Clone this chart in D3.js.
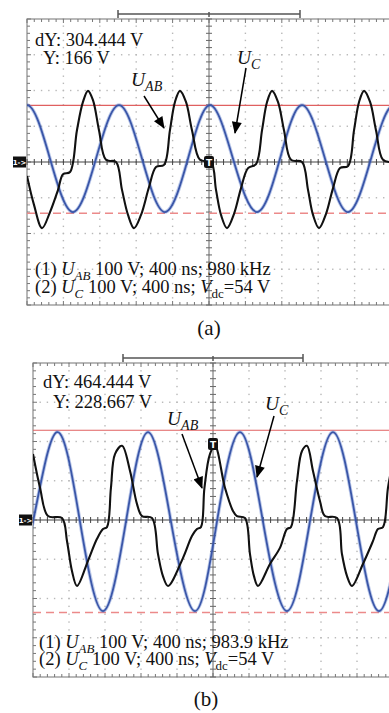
<!DOCTYPE html>
<html>
<head>
<meta charset="utf-8">
<script src="https://cdn.jsdelivr.net/npm/d3@7"></script>
<style>
body { margin: 0; background: #fff; }
svg { display: block; }
</style>
</head>
<body>
<svg id="fig" width="389" height="713"></svg>
<script>
// scope data: time in ns (400 ns/div), voltage in V (100 V/div)
var timeDomain = [0, 4000]
var voltDomain = [-400, 400]
var bracketTimes = [1000, 2000, 3000]

// (a) U_C (blue) and U_AB (black)
var ucA = [[-253,9],[0,159],[253,9],[505,-140],[758,9],[1011,159],[1264,9],[1516,-140],[1769,9],
  [2011,159],[2264,9],[2527,-140],[2780,9],[3022,159],[3275,9],[3527,-140],[3780,9],[4033,159],[4286,9]]
var uabA = [[0,-39],[77,-120],[165,-185],[253,-140],[341,-78],[396,-34],[473,-28],[549,89],[615,168],
  [670,199],[725,173],[791,89],[868,6],[978,0],[1044,-78],[1110,-148],[1176,-185],[1253,-148],[1341,-70],
  [1418,-14],[1506,-8],[1571,89],[1626,168],[1681,199],[1747,168],[1813,89],[1901,6],[2022,0],[2077,-78],
  [2132,-148],[2198,-185],[2275,-145],[2352,-73],[2429,-17],[2517,-6],[2583,89],[2638,168],[2693,199],
  [2758,168],[2824,89],[2901,6],[3022,0],[3088,-78],[3143,-148],[3209,-185],[3286,-145],[3363,-73],
  [3440,-17],[3528,-11],[3594,89],[3649,168],[3704,199],[3770,168],[3835,89],[3912,6],[4011,0]]
var cursorsA = [158.6, -143.5]
var textA = ["dY: 304.444 V", "Y: 166 V", "980 kHz"]

// (b)
var ucB = [[-256,-232],[0,-4],[267,224],[522,-4],[778,-232],[1033,-4],[1278,224],[1533,-4],[1800,-232],
  [2044,-4],[2300,224],[2555,-4],[2822,-232],[3077,-4],[3333,224],[3589,-4],[3844,-232],[4100,-4]]
var uabB = [[0,168],[78,82],[167,10],[322,5],[378,-54],[433,-130],[489,-168],[611,-104],[711,-48],
  [778,-23],[822,-18],[866,82],[911,168],[989,189],[1078,125],[1155,41],[1211,10],[1322,5],[1389,-87],
  [1444,-143],[1500,-168],[1666,-97],[1766,-41],[1822,-23],[1866,-18],[1905,82],[1966,168],[2022,189],
  [2133,82],[2222,23],[2266,10],[2355,5],[2411,-87],[2455,-143],[2500,-168],[2633,-112],[2744,-71],
  [2822,-23],[2866,-18],[2933,99],[2989,176],[3044,189],[3111,125],[3189,48],[3244,10],[3378,5],
  [3433,-87],[3489,-143],[3544,-168],[3666,-112],[3777,-54],[3833,-23],[3889,-18],[3944,82],[4000,150]]
var cursorsB = [228.667, -235.777]
var textB = ["dY: 464.444 V", "Y: 228.667 V", "983.9 kHz"]

var serif = '"Liberation Serif", "DejaVu Serif", serif'
var svg = d3.select('#fig').attr('font-family', serif)

var defs = svg.append('defs')
defs.append('marker')
  .attr('id', 'head')
  .attr('viewBox', '0 0 12 10')
  .attr('refX', 11).attr('refY', 5)
  .attr('markerUnits', 'userSpaceOnUse')
  .attr('markerWidth', 13).attr('markerHeight', 10)
  .attr('orient', 'auto')
  .append('path').attr('d', 'M0,0 L12,5 L0,10 Z').attr('fill', '#000')

// write text with italic / subscript pieces
function rich(g, x, y, parts, size) {
  var t = g.append('text').attr('x', x).attr('y', y)
    .attr('font-family', serif).attr('font-size', size).attr('fill', '#111')
  var shift = 0
  parts.forEach(function(p) {
    var s = t.append('tspan').text(p.t)
    if (p.i) s.attr('font-style', 'italic')
    var want = p.sub ? Math.round(size * 0.25) : 0
    if (want != shift) { s.attr('dy', want - shift); shift = want }
    if (p.sub) s.attr('font-size', Math.round(size * 0.72))
  })
  return t
}

function drawPanel(id, cfg) {
  var x = d3.scaleLinear().domain(timeDomain).range([cfg.left, cfg.right])
  var y = d3.scaleLinear().domain(voltDomain).range([cfg.bottom, cfg.top])
  var g = svg.append('g')

  var majorT = d3.range(timeDomain[0], timeDomain[1] + 1, 400)
  var majorV = d3.range(voltDomain[0], voltDomain[1] + 1, 100)
  var minorT = d3.range(timeDomain[0], timeDomain[1] + 1, 80)
  var minorV = d3.range(voltDomain[0], voltDomain[1] + 1, 20)

  // dotted graticule
  majorT.slice(1, -1).forEach(function(t) {
    if (t == 2000) return
    g.selectAll(null).data(minorV).enter().append('rect')
      .attr('x', x(t) - 0.7).attr('y', function(v) { return y(v) - 0.7 })
      .attr('width', 1.4).attr('height', 1.4).attr('fill', '#b8b8b8')
  })
  majorV.slice(1, -1).forEach(function(v) {
    if (v == 0) return
    g.selectAll(null).data(minorT).enter().append('rect')
      .attr('x', function(t) { return x(t) - 0.7 }).attr('y', y(v) - 0.7)
      .attr('width', 1.4).attr('height', 1.4).attr('fill', '#b8b8b8')
  })

  // frame
  g.append('rect')
    .attr('x', x(timeDomain[0])).attr('y', y(voltDomain[1]))
    .attr('width', x(timeDomain[1]) - x(timeDomain[0]))
    .attr('height', y(voltDomain[0]) - y(voltDomain[1]))
    .attr('fill', 'none').attr('stroke', '#8a8a8a').attr('stroke-width', 1.2)

  // minor ticks on frame
  g.selectAll(null).data(minorT).enter().append('line')
    .attr('x1', function(d) { return x(d) }).attr('x2', function(d) { return x(d) })
    .attr('y1', y(voltDomain[1])).attr('y2', function(d) { return y(voltDomain[1]) + (d % 400 == 0 ? 4 : 3) })
    .attr('stroke', '#777')
  g.selectAll(null).data(minorT).enter().append('line')
    .attr('x1', function(d) { return x(d) }).attr('x2', function(d) { return x(d) })
    .attr('y1', y(voltDomain[0])).attr('y2', function(d) { return y(voltDomain[0]) - (d % 400 == 0 ? 4 : 3) })
    .attr('stroke', '#777')
  g.selectAll(null).data(minorV).enter().append('line')
    .attr('y1', function(d) { return y(d) }).attr('y2', function(d) { return y(d) })
    .attr('x1', x(timeDomain[0])).attr('x2', function(d) { return x(timeDomain[0]) + (d % 100 == 0 ? 4 : 3) })
    .attr('stroke', '#777')

  // center cross with ticks
  g.append('line').attr('x1', x(2000)).attr('x2', x(2000)).attr('y1', y(voltDomain[1])).attr('y2', y(voltDomain[0]))
    .attr('stroke', '#666').attr('stroke-width', 1)
  g.append('line').attr('x1', x(timeDomain[0])).attr('x2', x(timeDomain[1])).attr('y1', y(0)).attr('y2', y(0))
    .attr('stroke', '#444').attr('stroke-width', 1.2)
  g.selectAll(null).data(minorV).enter().append('line')
    .attr('y1', function(d) { return y(d) }).attr('y2', function(d) { return y(d) })
    .attr('x1', x(2000) - 3).attr('x2', x(2000) + 3).attr('stroke', '#666')
  g.selectAll(null).data(minorT).enter().append('line')
    .attr('x1', function(d) { return x(d) }).attr('x2', function(d) { return x(d) })
    .attr('y1', y(0) - 3).attr('y2', y(0) + 3).attr('stroke', '#444')

  // top bracket
  var by = y(voltDomain[1]) - 5
  g.append('line').attr('x1', x(bracketTimes[0])).attr('x2', x(bracketTimes[2])).attr('y1', by).attr('y2', by)
    .attr('stroke', '#555').attr('stroke-width', 1.3)
  g.selectAll(null).data(bracketTimes).enter().append('line')
    .attr('x1', function(d) { return x(d) }).attr('x2', function(d) { return x(d) })
    .attr('y1', function(d, i) { return i == 1 ? by - 2 : by - 4 })
    .attr('y2', function(d, i) { return i == 1 ? by + 3 : by + 4 })
    .attr('stroke', '#555').attr('stroke-width', 1.5)

  // cursors
  g.append('line').attr('x1', x(timeDomain[0])).attr('x2', x(timeDomain[1]))
    .attr('y1', y(cfg.cursors[0])).attr('y2', y(cfg.cursors[0]))
    .attr('stroke', '#e06060').attr('stroke-width', 1.2)
  g.append('line').attr('x1', x(timeDomain[0])).attr('x2', x(timeDomain[1]))
    .attr('y1', y(cfg.cursors[1])).attr('y2', y(cfg.cursors[1]))
    .attr('stroke', '#ec8a8a').attr('stroke-width', 1.4).attr('stroke-dasharray', '8,5')

  // traces
  defs.append('clipPath').attr('id', 'clip' + id).append('rect')
    .attr('x', cfg.left).attr('y', cfg.top).attr('width', cfg.right - cfg.left).attr('height', cfg.bottom - cfg.top)
  var traces = g.append('g').attr('clip-path', 'url(#clip' + id + ')')
  var blueLine = d3.line().x(function(d) { return x(d[0]) }).y(function(d) { return y(d[1]) }).curve(d3.curveNatural)
  var blackLine = d3.line().x(function(d) { return x(d[0]) }).y(function(d) { return y(d[1]) }).curve(d3.curveCatmullRom.alpha(0.5))
  traces.append('path').datum(cfg.uc).attr('d', blueLine)
    .attr('fill', 'none').attr('stroke', '#5575c8').attr('stroke-width', 3.6).attr('opacity', 0.4)
  traces.append('path').datum(cfg.uc).attr('d', blueLine)
    .attr('fill', 'none').attr('stroke', '#3a56a8').attr('stroke-width', 1.8)
  traces.append('path').datum(cfg.uab).attr('d', blackLine)
    .attr('fill', 'none').attr('stroke', '#111').attr('stroke-width', 2.1)

  // ground marker and trigger marker
  var gy = y(0)
  g.append('rect').attr('x', cfg.left - 14).attr('y', gy - 5.5).attr('width', 13).attr('height', 11).attr('fill', '#111')
  g.append('text').attr('x', cfg.left - 7.5).attr('y', gy + 3).attr('text-anchor', 'middle')
    .attr('font-family', 'DejaVu Sans').attr('font-size', 7).attr('font-weight', 'bold').attr('fill', '#fff').text('1->')
  g.append('rect').attr('x', x(2000) - 5).attr('y', cfg.trigY - 6).attr('width', 10).attr('height', 12).attr('rx', 2).attr('fill', '#111')
  g.append('text').attr('x', x(2000)).attr('y', cfg.trigY + 4).attr('text-anchor', 'middle')
    .attr('font-family', 'DejaVu Sans').attr('font-size', 9).attr('font-weight', 'bold').attr('fill', '#fff').text('T')

  // readouts
  var fs = 18.5
  rich(g, cfg.dyPos[0], cfg.dyPos[1], [{t: cfg.text[0]}], fs)
  rich(g, cfg.yPos[0], cfg.yPos[1], [{t: cfg.text[1]}], fs)
  rich(g, cfg.infoPos[0], cfg.infoPos[1], [{t: '(1) '}, {t: 'U', i: true}, {t: 'AB', i: true, sub: true},
    {t: ' 100 V; 400 ns; ' + cfg.text[2]}], fs)
  rich(g, cfg.infoPos[0], cfg.infoPos[1] + cfg.lineGap, [{t: '(2) '}, {t: 'U', i: true}, {t: 'C', i: true, sub: true},
    {t: ' 100 V; 400 ns; '}, {t: 'V', i: true}, {t: 'dc', sub: true}, {t: '=54 V'}], fs)

  // labels with arrows
  rich(g, cfg.uabLabel[0], cfg.uabLabel[1], [{t: 'U', i: true}, {t: 'AB', i: true, sub: true}], 19.5)
  rich(g, cfg.ucLabel[0], cfg.ucLabel[1], [{t: 'U', i: true}, {t: 'C', i: true, sub: true}], 19.5)
  ;[cfg.uabArrow, cfg.ucArrow].forEach(function(a) {
    g.append('line').attr('x1', a[0]).attr('y1', a[1]).attr('x2', a[2]).attr('y2', a[3])
      .attr('stroke', '#000').attr('stroke-width', 1.5).attr('marker-end', 'url(#head)')
  })

  g.append('text').attr('x', cfg.caption[0]).attr('y', cfg.caption[1]).attr('text-anchor', 'middle')
    .attr('font-family', serif).attr('font-size', 21).attr('fill', '#111').text(cfg.caption[2])
}

drawPanel('a', {
  left: 27, right: 391, top: 19, bottom: 305,
  uc: ucA, uab: uabA, cursors: cursorsA, text: textA, trigY: 162,
  dyPos: [35, 46], yPos: [43, 64], infoPos: [35, 275], lineGap: 18,
  uabLabel: [131, 86], ucLabel: [237, 64],
  uabArrow: [144, 96, 164, 128], ucArrow: [246, 68, 235, 133],
  caption: [209, 335, '(a)']
})
drawPanel('b', {
  left: 33, right: 393, top: 363, bottom: 677,
  uc: ucB, uab: uabB, cursors: cursorsB, text: textB, trigY: 444,
  dyPos: [43, 388], yPos: [53, 408], infoPos: [39, 648], lineGap: 17,
  uabLabel: [167, 425], ucLabel: [265, 410],
  uabArrow: [182, 434, 202, 488], ucArrow: [274, 416, 257, 477],
  caption: [206, 706, '(b)']
})
</script>
</body>
</html>
